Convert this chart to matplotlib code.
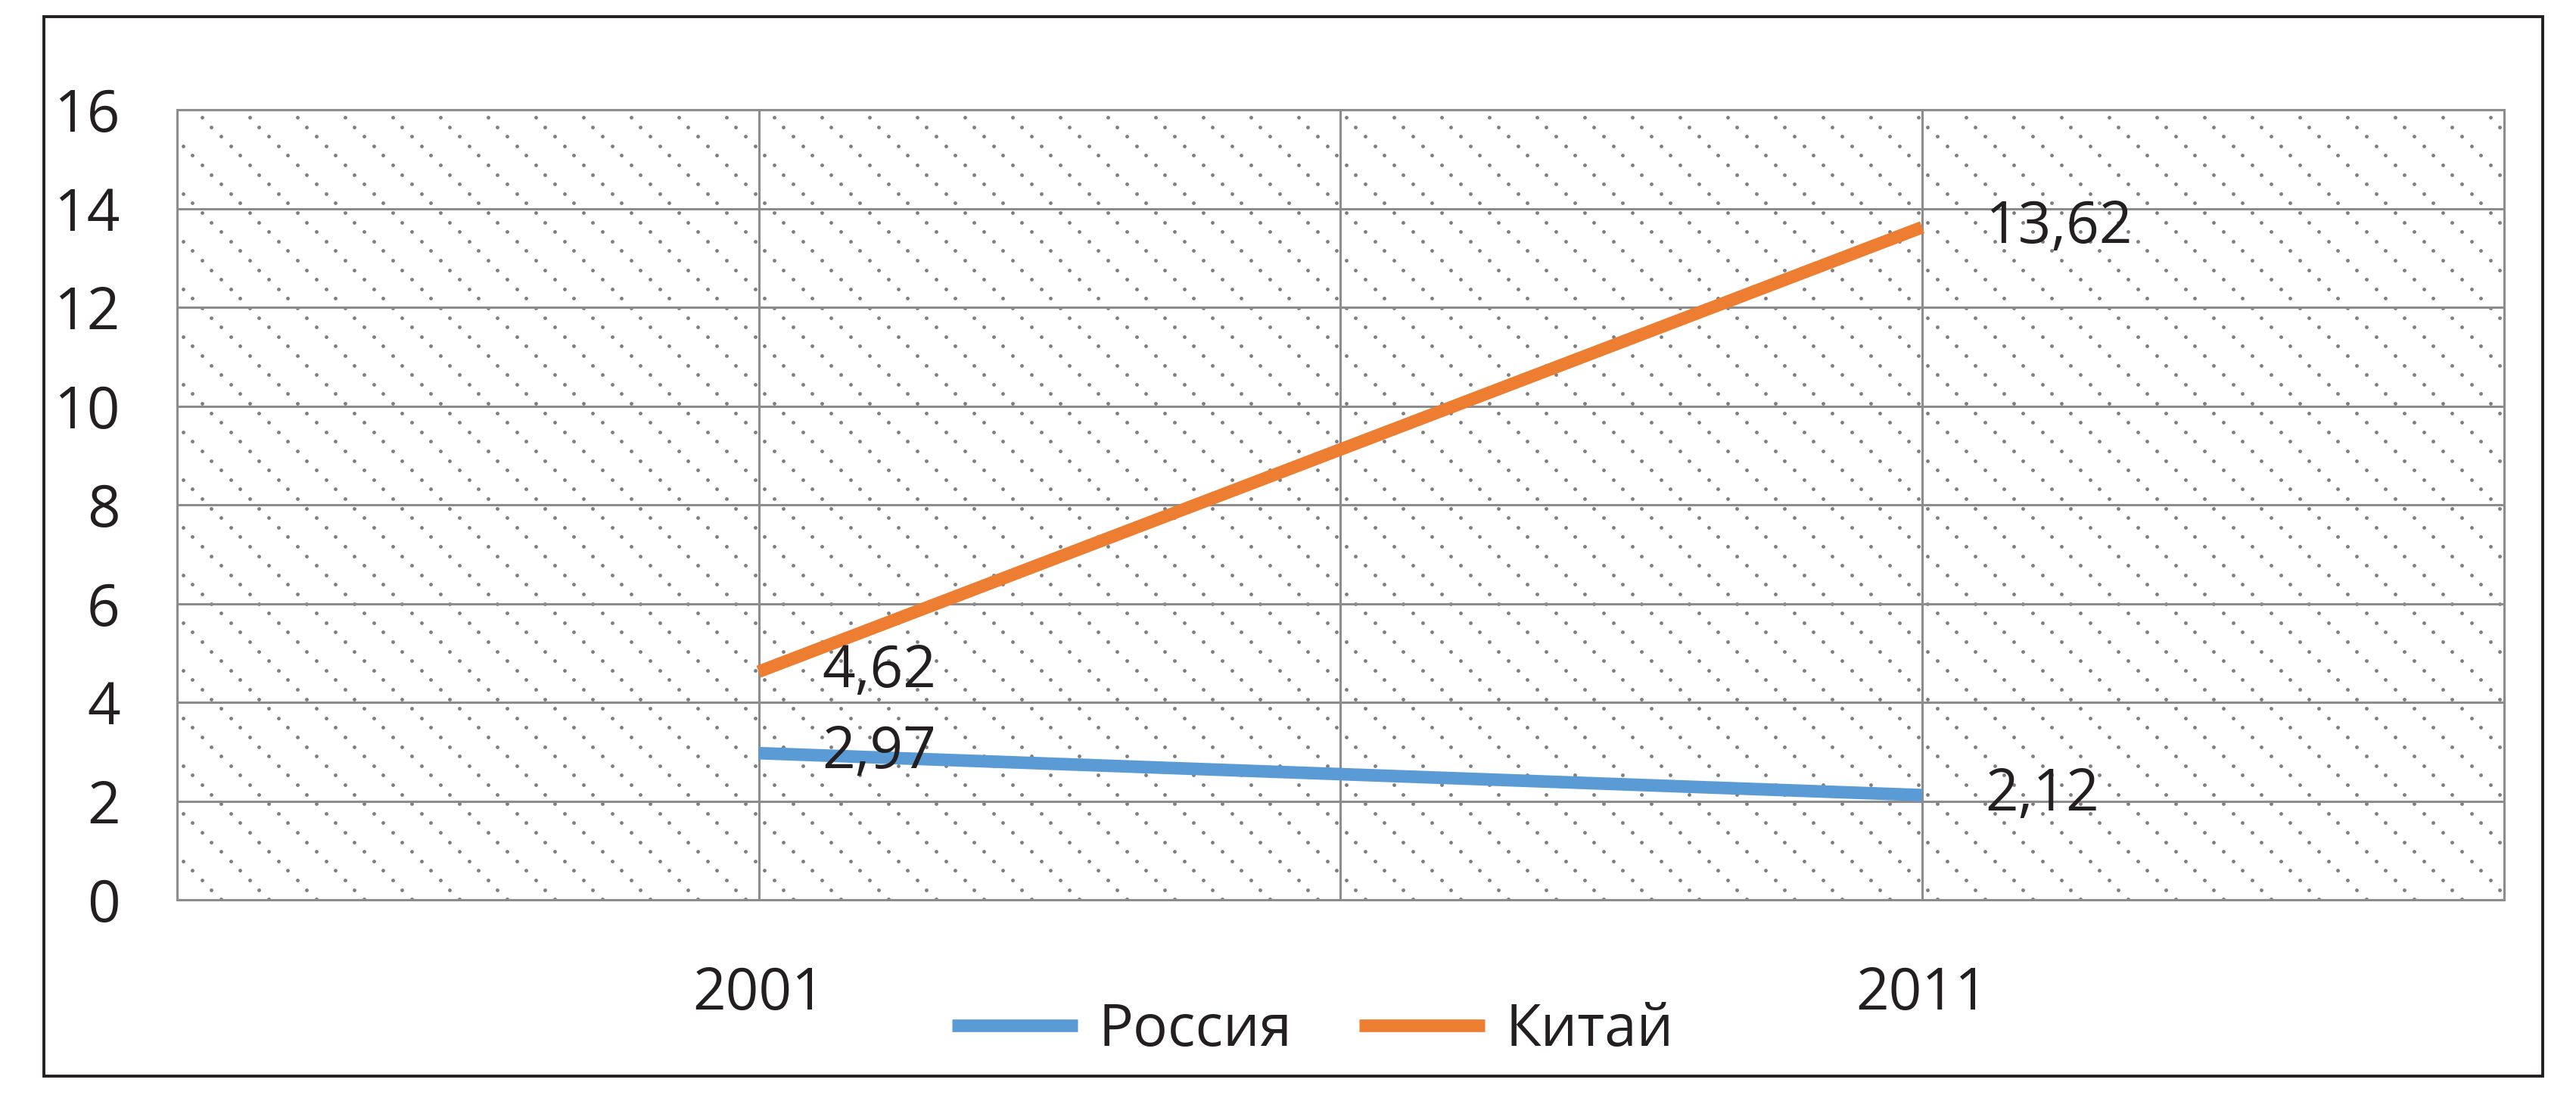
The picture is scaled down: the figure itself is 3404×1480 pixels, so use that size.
import matplotlib
matplotlib.use("Agg")
import matplotlib.pyplot as plt
import numpy as np
from matplotlib.patches import Rectangle

# ---- data ----------------------------------------------------------------
years = ["2001", "2011"]
russia = [2.97, 2.12]
china = [4.62, 13.62]
russia_labels = ["2,97", "2,12"]
china_labels = ["4,62", "13,62"]
series_names = ["Россия", "Китай"]
yticks = [0, 2, 4, 6, 8, 10, 12, 14, 16]

# ---- style ---------------------------------------------------------------
INK = "#231F20"
GRID = "#8C8C8C"
DOT = "#7E7E7E"
BLUE = "#5B9BD5"
ORANGE = "#ED7D31"
FS = 27.5
DPI = 200
W_PX, H_PX = 3404, 1480

plt.rcParams["font.family"] = ["Open Sans", "DejaVu Sans"]

fig = plt.figure(figsize=(W_PX / DPI, H_PX / DPI), dpi=DPI)
AX_L, AX_R, AX_B, AX_T = 0.0687, 0.972, 0.1966, 0.902
ax = fig.add_axes([AX_L, AX_B, AX_R - AX_L, AX_T - AX_B])

# outer black frame
fig.patches.append(Rectangle((0.017, 0.039), 0.987 - 0.017, 0.985 - 0.039,
                             transform=fig.transFigure, fill=False,
                             edgecolor=INK, lw=1.4, zorder=0))

# dotted diagonal pattern in the plot area (decoration, pixel lattice)
ax_w = (AX_R - AX_L) * W_PX
ax_h = (AX_T - AX_B) * H_PX
step, period = 12.6, 63.0
px, py = [], []
for j in range(int(ax_h / step) + 2):
    y = ax_h - 10 - j * step
    off = (33 + j * step) % period
    xs = np.arange(off - period, ax_w + period, period)
    px.extend(xs)
    py.extend([y] * len(xs))
px = np.array(px) / ax_w
py = np.array(py) / ax_h
ax.scatter(px, py, s=3.0, color=DOT, lw=0, transform=ax.transAxes,
           zorder=1, clip_on=True)

x = np.arange(len(years))
ax.plot(x, russia, color=BLUE, lw=6.0, solid_capstyle="butt", zorder=4,
        label=series_names[0])
ax.plot(x, china, color=ORANGE, lw=6.0, solid_capstyle="butt", zorder=4,
        label=series_names[1])

for xi, yi, t in zip(x, russia, russia_labels):
    ax.annotate(t, (xi, yi), xytext=(30, 0), textcoords="offset points",
                ha="left", va="center", fontsize=FS, color=INK, zorder=5)
for xi, yi, t in zip(x, china, china_labels):
    ax.annotate(t, (xi, yi), xytext=(30, 0), textcoords="offset points",
                ha="left", va="center", fontsize=FS, color=INK, zorder=5)

ax.set_xlim(-0.5, 1.5)
ax.set_ylim(0, 16)
ax.set_yticks(yticks)
ax.set_yticklabels([str(v) for v in yticks])
ax.set_xticks(x)
ax.set_xticklabels(years)
ax.set_xticks([-0.5, 0.5, 1.5], minor=True)
ax.tick_params(axis="both", which="both", length=0, labelsize=FS, colors=INK)
ax.tick_params(axis="y", pad=27)
ax.tick_params(axis="x", pad=31)
ax.grid(True, which="both", color=GRID, lw=1.1, zorder=2)
ax.set_axisbelow(False)
for sp in ax.spines.values():
    sp.set_color(GRID)
    sp.set_linewidth(1.1)
    sp.set_zorder(2)
for gl in ax.get_xgridlines() + ax.get_ygridlines():
    gl.set_zorder(2)

fig.legend(loc="center", bbox_to_anchor=(0.5097, 0.080), ncol=2,
           frameon=False, fontsize=FS, handlelength=2.17,
           handletextpad=0.36, columnspacing=1.16, borderpad=0,
           borderaxespad=0, labelcolor=INK)

fig.savefig("out.png", dpi=DPI, facecolor="white")
